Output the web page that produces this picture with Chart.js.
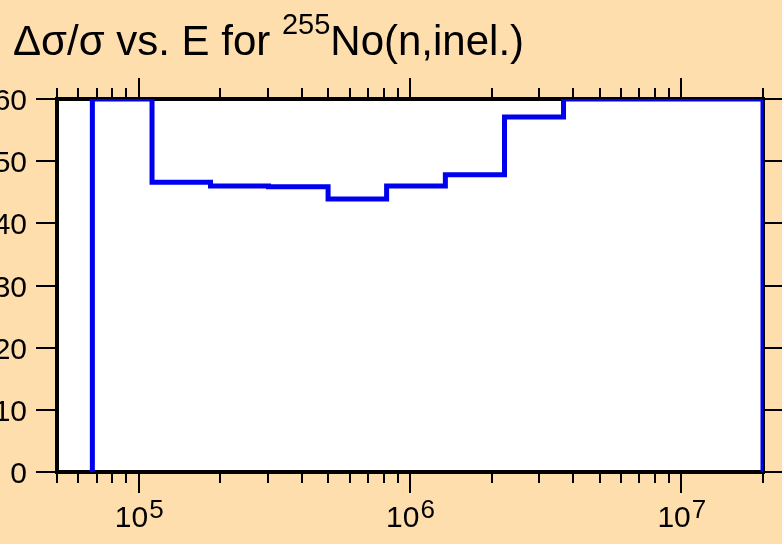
<!DOCTYPE html>
<html>
<head>
<meta charset="utf-8">
<script src="https://cdn.jsdelivr.net/npm/chart.js@4/dist/chart.umd.min.js"></script>
<style>
  html, body { margin: 0; padding: 0; background: #FFDEAD; }
  #wrap { width: 782px; height: 544px; }
</style>
</head>
<body>
<div id="wrap"><canvas id="unc-chart"></canvas></div>
<script>
// bin edges (eV) and relative uncertainty (%) per bin
const energyEdges = [6.75e4, 1.12e5, 1.84e5, 3.01e5, 4.99e5, 8.2e5, 1.35e6, 2.23e6, 3.68e6, 2.0e7];
const relUncert = [60, 46.6, 46.0, 45.9, 43.9, 46.0, 47.8, 57.1, 60];
const xMin = 5e4, xMax = 2e7;
const yMin = 0, yMax = 60, yStep = 10;
const xLabelExps = [5, 6, 7];

const FONT = '"Liberation Sans", Arial, sans-serif';

// step outline: up from 0 at first edge, across the bins, down at the last edge
let pts = [{x: energyEdges[0], y: 0}];
relUncert.forEach((v, i) => pts.push({x: energyEdges[i], y: v}));
pts.push({x: energyEdges[energyEdges.length - 1], y: relUncert[relUncert.length - 1]});
pts.push({x: energyEdges[energyEdges.length - 1], y: 0});

const frame = {
  id: 'frame',
  beforeDraw(chart) {
    const {ctx, chartArea: a, width, height} = chart;
    ctx.save();
    ctx.fillStyle = '#FFDEAD';
    ctx.fillRect(0, 0, width, height);
    ctx.fillStyle = '#ffffff';
    ctx.fillRect(a.left, a.top, a.right - a.left, a.bottom - a.top);
    ctx.restore();
  },
  beforeDatasetsDraw(chart) {
    const {ctx, chartArea: a} = chart;
    const xs = chart.scales.x, ys = chart.scales.y;
    ctx.save();
    ctx.strokeStyle = '#000';
    ctx.fillStyle = '#000';

    // ticks on x (top and bottom, outward)
    ctx.lineWidth = 2;
    for (let e = 4; e <= 7; e++) {
      for (let k = 1; k <= 9; k++) {
        const v = k * Math.pow(10, e);
        if (v < xMin * 0.999 || v > xMax * 1.001) continue;
        const px = Math.round(xs.getPixelForValue(v));
        const len = k === 1 ? 21 : 11;
        ctx.beginPath();
        ctx.moveTo(px, a.bottom); ctx.lineTo(px, a.bottom + len);
        ctx.moveTo(px, a.top); ctx.lineTo(px, a.top - len);
        ctx.stroke();
      }
    }
    // ticks on y (left and right, outward)
    ys.ticks.forEach(t => {
      const py = Math.round(ys.getPixelForValue(t.value));
      ctx.beginPath();
      ctx.moveTo(a.left, py); ctx.lineTo(a.left - 21, py);
      ctx.moveTo(a.right, py); ctx.lineTo(a.right + 21, py);
      ctx.stroke();
    });

    // frame
    ctx.lineWidth = 4;
    ctx.strokeRect(a.left, a.top, a.right - a.left, a.bottom - a.top);

    // y labels
    ctx.font = '30px ' + FONT;
    ctx.textAlign = 'right';
    ctx.textBaseline = 'alphabetic';
    ys.ticks.forEach(t => {
      const py = ys.getPixelForValue(t.value);
      ctx.fillText(String(t.value), 27, py + 11);
    });

    // x labels 10^n
    ctx.textAlign = 'left';
    xLabelExps.forEach(n => {
      const px = xs.getPixelForValue(Math.pow(10, n));
      ctx.font = '30px ' + FONT;
      const w1 = ctx.measureText('10').width;
      ctx.font = '26px ' + FONT;
      const w2 = ctx.measureText(String(n)).width;
      const x0 = px - (w1 + w2) / 2;
      ctx.font = '30px ' + FONT;
      ctx.fillText('10', x0, 527);
      ctx.font = '26px ' + FONT;
      ctx.fillText(String(n), x0 + w1 + 1, 518);
    });

    // title
    let tx = 13;
    ctx.font = '42px ' + FONT;
    ctx.fillText('\u0394\u03c3/\u03c3 vs. E for ', tx, 55);
    tx += ctx.measureText('\u0394\u03c3/\u03c3 vs. E for ').width;
    ctx.font = '29px ' + FONT;
    ctx.fillText('255', tx, 34);
    tx += ctx.measureText('255').width;
    ctx.font = '42px ' + FONT;
    ctx.fillText('No(n,inel.)', tx, 55);
    ctx.restore();
  }
};

const uncCanvas = document.getElementById('unc-chart');
let uncChart = new Chart(uncCanvas, {
  type: 'line',
  data: {
    datasets: [{
      data: pts,
      stepped: true,
      borderColor: '#0000ee',
      borderWidth: 5,
      pointRadius: 0,
      fill: false
    }]
  },
  options: {
    responsive: true,
    maintainAspectRatio: false,
    animation: { duration: 0 },
    layout: { padding: { top: 99, right: 19, left: 0, bottom: 0 } },
    plugins: { legend: { display: false }, tooltip: { enabled: false } },
    scales: {
      x: {
        type: 'logarithmic',
        min: xMin,
        max: xMax,
        ticks: { display: false },
        grid: { display: false },
        border: { display: false },
        afterFit: s => { s.height = 72; }
      },
      y: {
        min: yMin,
        max: yMax,
        ticks: { display: false, stepSize: yStep },
        grid: { display: false },
        border: { display: false },
        afterFit: s => { s.width = 57; }
      }
    }
  },
  plugins: [frame]
});
</script>
</body>
</html>
